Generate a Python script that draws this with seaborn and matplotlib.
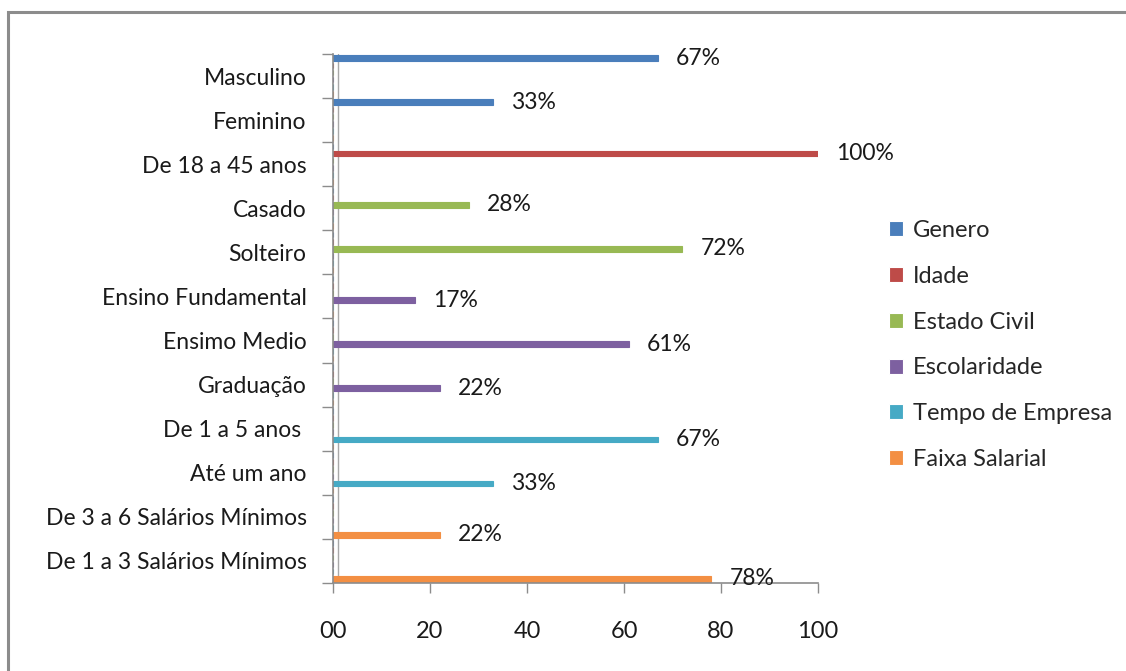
import numpy as np
import pandas as pd
import matplotlib
matplotlib.use("Agg")
import matplotlib.pyplot as plt
from matplotlib.patches import Rectangle
import seaborn as sns

# Survey profile: each answer belongs to exactly one group
categories = [
    "Masculino", "Feminino", "De 18 a 45 anos", "Casado", "Solteiro",
    "Ensino Fundamental", "Ensimo Medio", "Graduação", "De 1 a 5 anos ",
    "Até um ano", "De 3 a 6 Salários Mínimos", "De 1 a 3 Salários Mínimos",
]
groups = ["Genero", "Idade", "Estado Civil", "Escolaridade",
          "Tempo de Empresa", "Faixa Salarial"]
category_group = ["Genero", "Genero", "Idade", "Estado Civil", "Estado Civil",
                  "Escolaridade", "Escolaridade", "Escolaridade",
                  "Tempo de Empresa", "Tempo de Empresa",
                  "Faixa Salarial", "Faixa Salarial"]
percentages = [67, 33, 100, 28, 72, 17, 61, 22, 67, 33, 22, 78]
x_ticks = [0, 20, 40, 60, 80, 100]
x_tick_labels = ["00", "20", "40", "60", "80", "100"]

colors = ["#4A7EBB", "#BE4B48", "#98B954", "#7D60A0", "#46AAC5", "#F38F43"]

# Long table: every category gets a row for every group (zero elsewhere)
rows = []
for cat, grp, val in zip(categories, category_group, percentages):
    for g in groups:
        rows.append({"categoria": cat, "grupo": g, "valor": val if g == grp else 0})
df = pd.DataFrame(rows)

sns.set_theme(style="white")
plt.rcParams["font.family"] = ["Lato", "DejaVu Sans"]

fig = plt.figure(figsize=(11.26, 6.71), dpi=100)
ax = fig.add_axes([333 / 1126, 1 - 583 / 671, (818 - 333) / 1126, (583 - 54) / 671])

sns.barplot(data=df, y="categoria", x="valor", hue="grupo", order=categories,
            hue_order=groups, palette=colors, orient="h", width=0.97, gap=0.2,
            dodge=True, errorbar=None, ax=ax, linewidth=0.8, saturation=1)

for cont, g in zip(ax.containers, groups):
    for p in cont.patches:
        p.set_edgecolor(p.get_facecolor())
    labels = [f"{v:.0f}%" if v > 0 else "" for v in cont.datavalues]
    ax.bar_label(cont, labels=labels, padding=13, fontsize=16.5, color="#1a1a1a")

ax.set_xlim(0, 100)
ax.set_ylim(len(categories) - 0.5, -0.5)
ax.set_xticks(x_ticks)
ax.set_xticklabels(x_tick_labels, fontsize=17, color="#1a1a1a")
ax.set_yticks(range(len(categories)))
ax.set_yticklabels(categories, fontsize=16.5, color="#1a1a1a")
ax.set_yticks(np.arange(-0.5, len(categories)), minor=True)
ax.tick_params(axis="y", which="major", length=0, pad=19)
ax.tick_params(axis="y", which="minor", length=8, width=1, color="#8c8c8c", left=True)
ax.tick_params(axis="x", which="major", length=7, width=1, color="#8c8c8c",
               direction="out", bottom=True, pad=20)
ax.set_xlabel("")
ax.set_ylabel("")

for side in ["top", "right"]:
    ax.spines[side].set_visible(False)
for side in ["left", "bottom"]:
    ax.spines[side].set_color("#8c8c8c")
    ax.spines[side].set_linewidth(1.2)
ax.axvline(1.0, color="#a8a8a8", lw=1.0, zorder=0)

handles, labels = ax.get_legend_handles_labels()
ax.legend(handles, labels, loc="center left", bbox_to_anchor=(868 / 1126, 1 - 345 / 671),
          bbox_transform=fig.transFigure, frameon=False, fontsize=17,
          labelspacing=1.05, handlelength=0.6, handleheight=0.6, handletextpad=0.4)

fig.add_artist(Rectangle((8 / 1126, -0.1), 1.2, 1 - 12 / 671 + 0.1,
                         transform=fig.transFigure, fill=False,
                         edgecolor="#8c8c8c", lw=2.2))

fig.savefig("out.png", dpi=100, facecolor="white")
